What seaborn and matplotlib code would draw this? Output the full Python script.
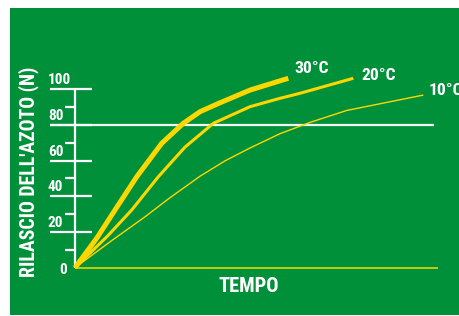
import matplotlib
matplotlib.use('Agg')
import matplotlib.pyplot as plt
import seaborn as sns
import pandas as pd
from matplotlib.patches import Rectangle

# Dati (tempo in unità arbitrarie, rilascio in %)
tempo_30 = [0, 21.7, 40, 61.7, 86.7, 108.3, 125, 141.7, 175, 213.3]
rilascio_30 = [0, 16.5, 32.3, 50.9, 69.6, 80.8, 87.3, 91.5, 99.4, 106.0]
tempo_20 = [0, 33, 56.7, 83.3, 110, 138.3, 175, 205, 225, 278.3]
rilascio_20 = [0, 18.0, 32.3, 50.9, 67.5, 80.8, 90.1, 94.8, 97.6, 106.0]
tempo_10 = [0, 35, 70, 95, 125, 150, 175, 205, 235, 271.7, 348.3]
rilascio_10 = [0, 14.5, 28.5, 39.2, 51.2, 59.8, 67.0, 75.0, 81.3, 88.0, 96.6]

etichette = ['30°C', '20°C', '10°C']
pos_etichette = [(219, 111.2), (286, 107.8), (354, 99.4)]
spessori = [3.6, 2.2, 1.0]

yticks = [0, 20, 40, 60, 80, 100]
yticks_minor = [10, 30, 50, 70, 90]
soglia = 80
tempo_max = 362.7

VERDE = '#00903a'
GIALLO = '#ffd700'

plt.rcParams['font.family'] = ['Roboto Condensed', 'Roboto', 'DejaVu Sans']
plt.rcParams['font.weight'] = 'bold'

fig = plt.figure(figsize=(4.6, 3.16), dpi=100)
fig.patch.set_facecolor('white')
fig.patches.append(Rectangle((10 / 460, 1 / 316), 450 / 460, 307 / 316,
                             transform=fig.transFigure, facecolor=VERDE,
                             edgecolor='none', zorder=-10))

ax = fig.add_axes([0, 0, 1, 1])
ax.set_zorder(1)
ax.patch.set_visible(False)

# linea di base e soglia dell'80%
ax.hlines(0, 0, tempo_max, color='#ccd20a', lw=1.3, zorder=2)
ax.hlines(soglia, -25, 359, color='#f2f2f2', lw=1.6, zorder=2)

# asse y disegnato a mano
ax.vlines(0, 0, 100, color='white', lw=1.6, zorder=3)
ax.hlines([t for t in yticks if t > 0], -25, 17, color='white', lw=1.6, zorder=3)
ax.hlines(yticks_minor, -10, 0, color='white', lw=1.6, zorder=3)
for t in yticks:
    if t == 0:
        ax.text(-8, -1.5, '0', color='white', fontsize=11, ha='right', va='center')
    else:
        ax.text(-27, t + 1.0, str(t), color='white', fontsize=11, ha='left', va='bottom')

serie = [(tempo_30, rilascio_30), (tempo_20, rilascio_20), (tempo_10, rilascio_10)]
for (x, y), lab, lw, (tx, ty) in zip(serie, etichette, spessori, pos_etichette):
    df = pd.DataFrame({'tempo': x, 'rilascio': y})
    sns.lineplot(data=df, x='tempo', y='rilascio', ax=ax, color=GIALLO, lw=lw,
                 solid_capstyle='butt', zorder=4)
    ax.text(tx, ty, lab, color='white', fontsize=12.6, ha='left', va='center')

ax.text(-46, 53.5, "RILASCIO DELL'AZOTO (N)", color='white', fontsize=14.2,
        rotation=90, ha='center', va='center')
ax.text(173.5, -10.5, 'TEMPO', color='white', fontsize=14.8, ha='center', va='center')

ax.set_xlim(-75, 385)
ax.set_ylim(-27.0, 149.8)
ax.set_axis_off()

plt.savefig('out.png', dpi=100)
plt.close()
